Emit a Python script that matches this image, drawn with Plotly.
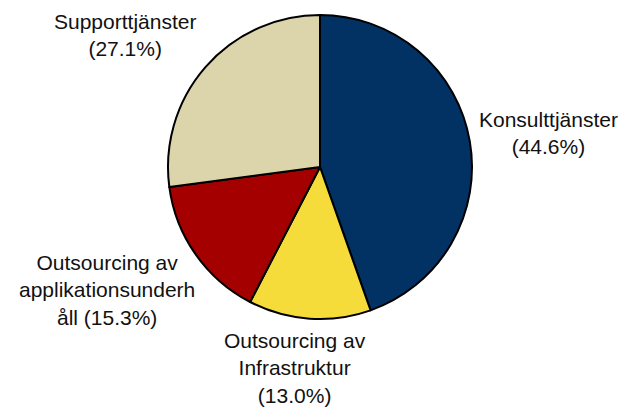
import plotly.graph_objects as go

# Revenue split by service area (percent)
categories = [
    "Konsulttjänster",
    "Outsourcing av Infrastruktur",
    "Outsourcing av applikationsunderhåll",
    "Supporttjänster",
]
values = [44.6, 13.0, 15.3, 27.1]
# Label text as it is wrapped beside each slice
label_lines = [
    ["Konsulttjänster"],
    ["Outsourcing av", "Infrastruktur"],
    ["Outsourcing av", "applikationsunderh", "åll"],
    ["Supporttjänster"],
]
colors = ["#023163", "#F6DC3A", "#A40000", "#DCD5AB"]

W, H = 624, 409
cx, cy, r = 320, 167, 152

fig = go.Figure(
    go.Pie(
        labels=categories,
        values=values,
        sort=False,
        direction="clockwise",
        rotation=0,
        textinfo="none",
        hoverinfo="label+percent",
        marker=dict(colors=colors, line=dict(color="#000000", width=2)),
        domain=dict(
            x=[(cx - r) / W, (cx + r) / W],
            y=[1 - (cy + r) / H, 1 - (cy - r) / H],
        ),
        showlegend=False,
    )
)

# Label anchor points (pixel centres of each text block)
label_pos = [(548, 133), (295, 368), (107, 290), (125, 35)]
for lines, v, (px, py) in zip(label_lines, values, label_pos):
    pct = f"({v:.1f}%)"
    if lines[-1] == "åll":
        text_lines = lines[:-1] + [f"{lines[-1]} {pct}"]
    else:
        text_lines = lines + [pct]
    fig.add_annotation(
        text="<br>".join(text_lines),
        x=px / W,
        y=1 - py / H,
        xref="paper",
        yref="paper",
        xanchor="center",
        yanchor="middle",
        showarrow=False,
        align="center",
        font=dict(family="Liberation Sans, Arial, sans-serif", size=21, color="#111111"),
    )

fig.update_layout(
    width=W,
    height=H,
    margin=dict(l=0, r=0, t=0, b=0),
    paper_bgcolor="#ffffff",
    plot_bgcolor="#ffffff",
)

fig.write_html("out.html")
